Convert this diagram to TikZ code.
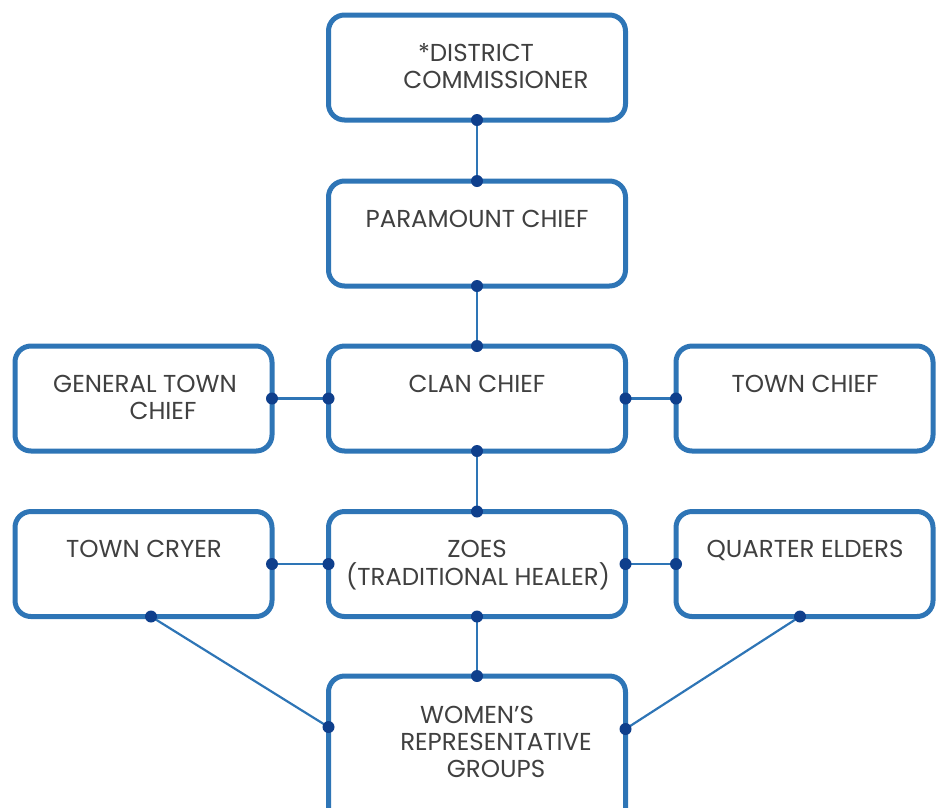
\documentclass[tikz,border=0pt]{standalone}
\usepackage{fontspec}
\setmainfont{Poppins}
\definecolor{boxblue}{HTML}{2E75B6}
\definecolor{dotblue}{HTML}{0F3F8C}
\definecolor{txtgray}{HTML}{404040}
\tikzset{
  orgbox/.style={draw=boxblue, line width=5pt, fill=white, rounded corners=16pt,
    rectangle, inner sep=0pt, outer sep=0pt},
  wide/.style={orgbox, minimum width=297pt, minimum height=105pt},
  side/.style={orgbox, minimum width=257pt, minimum height=105pt},
  txt/.style={anchor=base, inner sep=0pt, text=txtgray, font=\fontsize{24.5}{28}\selectfont},
  conn/.style={line width=2.2pt, draw=boxblue},
  dotc/.style={fill=dotblue}
}
\newcommand{\orgconn}[2]{%
  \draw[conn] (#1) -- (#2);
  \fill[dotc] (#1) circle (6pt);
  \fill[dotc] (#2) circle (6pt);}
\begin{document}
\begin{tikzpicture}[x=1pt,y=-1pt]
\useasboundingbox (0,0) rectangle (936,807);
\clip (0,0) rectangle (936,807);
% boxes
\node[wide] (dc) at (477,67.5) {};
\node[wide] (pc) at (477,233.5) {};
\node[wide] (cc) at (477,398.5) {};
\node[side] (gt) at (143.5,398.5) {};
\node[side] (tch) at (804.5,398.5) {};
\node[wide] (zo) at (477,564) {};
\node[side] (tc) at (143.5,564) {};
\node[side] (qe) at (804.5,564) {};
\node[wide, minimum height=160pt] (wr) at (477,756) {};
\coordinate (wrl) at (wr.north west |- 0,727);
\coordinate (wrr) at (wr.north east |- 0,729);
\coordinate (tcb) at ([xshift=7.5pt]tc.south);
\coordinate (qeb) at ([xshift=-4.5pt]qe.south);
% texts
\node[txt] (dc1) at (476,61) {*DISTRICT};
\node[txt] (dc2) at (496,88) {COMMISSIONER};
\node[txt] (pc1) at (477,227) {PARAMOUNT CHIEF};
\node[txt] (gt1) at (145,392) {GENERAL TOWN};
\node[txt] (gt2) at (163,419) {CHIEF};
\node[txt] (cc1) at (477,392) {CLAN CHIEF};
\node[txt] (tch1) at (805,392) {TOWN CHIEF};
\node[txt] (tc1) at (144,557) {TOWN CRYER};
\node[txt] (zo1) at (477,557) {ZOES};
\node[txt] (zo2) at (478,585) {(TRADITIONAL HEALER)};
\node[txt] (qe1) at (805,557) {QUARTER ELDERS};
\node[txt] (wr1) at (477,723) {WOMEN’S};
\node[txt] (wr2) at (496,750) {REPRESENTATIVE};
\node[txt] (wr3) at (496,777) {GROUPS};
% connectors
\orgconn{dc.south}{pc.north}
\orgconn{pc.south}{cc.north}
\orgconn{gt.east}{cc.west}
\orgconn{cc.east}{tch.west}
\orgconn{cc.south}{zo.north}
\orgconn{tc.east}{zo.west}
\orgconn{zo.east}{qe.west}
\orgconn{zo.south}{wr.north}
\orgconn{tcb}{wrl}
\orgconn{qeb}{wrr}
\end{tikzpicture}
\end{document}
